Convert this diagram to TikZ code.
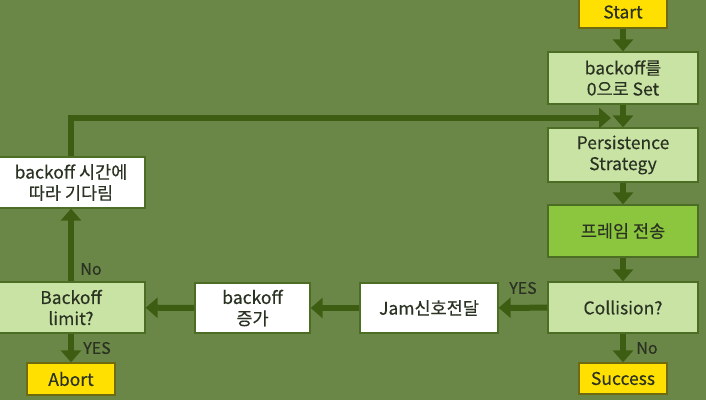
\documentclass[tikz,border=0pt]{standalone}
\usepackage{fontspec}
\setmainfont{Noto Sans CJK KR}
\newfontfamily\boxfont{Noto Sans CJK KR}[FakeBold=0.3]
\usetikzlibrary{arrows.meta}
\definecolor{bg}{HTML}{6B8748}
\definecolor{arr}{HTML}{3D5E12}
\definecolor{lightbox}{HTML}{C8E3A4}
\definecolor{bord}{HTML}{4C6E24}
\definecolor{frm}{HTML}{8CC63E}
\definecolor{ylw}{HTML}{FFE000}
\definecolor{ybord}{HTML}{6E6A10}
\definecolor{txt}{HTML}{2A3222}
\tikzset{
  box/.style={draw=bord, line width=1.3pt, minimum width=150pt, minimum height=52pt, align=center, text=txt, font=\boxfont\fontsize{17.5}{21}\selectfont, inner sep=2pt},
  lbox/.style={box, fill=lightbox},
  wbox/.style={box, fill=white},
  fbox/.style={box, fill=frm},
  ybox/.style={box, fill=ylw, draw=ybord, minimum width=88pt, minimum height=31pt},
  flow/.style={draw=arr, line width=6pt, -{Triangle[width=20pt,length=12pt]}},
  lab/.style={text=txt, font=\boxfont\fontsize{16}{18}\selectfont, inner sep=0pt}
}
\begin{document}
\begin{tikzpicture}[x=1pt,y=-1pt]
\clip (0,0) rectangle (706,400);
\fill[bg] (0,0) rectangle (706,400);
\node[ybox, minimum height=32pt] (start) at (623,12) {Start};
\node[lbox] (set) at (623,78) {backoff를\\0으로 Set};
\node[lbox, minimum height=54pt] (pers) at (623,155) {Persistence\\Strategy};
\node[fbox] (frame) at (623,231) {프레임 전송};
\node[lbox, minimum height=51pt] (coll) at (623,307.5) {Collision?};
\node[ybox] (succ) at (623,378.5) {Success};
\node[wbox, minimum width=138pt, minimum height=50pt] (jam) at (429,308) {Jam신호전달};
\node[wbox, minimum width=115pt, minimum height=50pt] (inc) at (252.5,308) {backoff\\증가};
\node[lbox, minimum width=148pt, minimum height=51pt] (limit) at (71,307.5) {Backoff\\limit?};
\node[ybox, minimum height=32pt] (abort) at (71,379) {Abort};
\node[wbox, minimum width=148pt, minimum height=51pt] (wait) at (71,182.5) {backoff 시간에\\따라 기다림};
\coordinate (loopend) at (611,118);
\draw[flow] (start) -- (set);
\draw[flow] (set) -- (pers);
\draw[flow] (pers) -- (frame);
\draw[flow] (frame) -- (coll);
\draw[flow] (coll) -- (succ);
\draw[flow] (coll) -- (jam);
\draw[flow] (jam) -- (inc);
\draw[flow] (inc) -- (limit);
\draw[flow] (limit) -- (abort);
\draw[flow] (limit) -- (wait);
\draw[flow] (wait.north) |- (loopend);
\node[lab] (l1) at (647,348) {No};
\node[lab] (l2) at (523,288) {YES};
\node[lab] (l3) at (91,269) {No};
\node[lab] (l4) at (97,348) {YES};
\end{tikzpicture}
\end{document}
